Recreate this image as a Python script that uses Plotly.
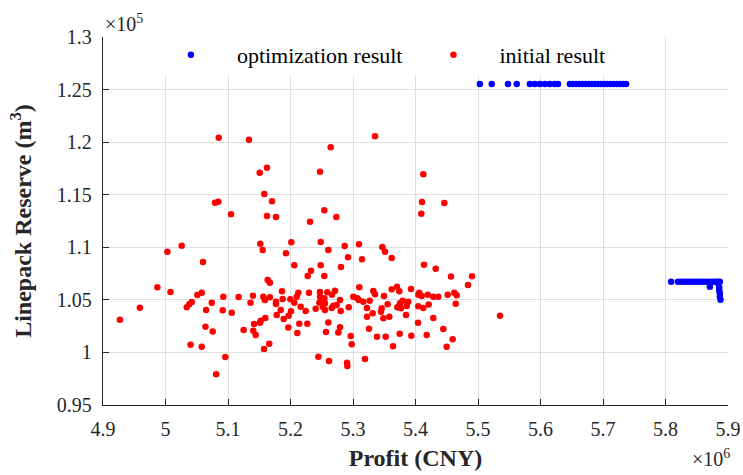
import plotly.graph_objects as go

# Optimization result (profit in 1e6 CNY, reserve in 1e5 m^3)
opt_profit = [5.503, 5.522, 5.548, 5.562, 5.583, 5.591, 5.599, 5.607, 5.615, 5.623, 5.628,
              5.647, 5.652, 5.657, 5.662, 5.667, 5.672, 5.677, 5.682, 5.687, 5.692, 5.697,
              5.702, 5.707, 5.712, 5.717, 5.722, 5.727, 5.732, 5.737,
              5.809, 5.820, 5.825, 5.830, 5.835, 5.840, 5.845, 5.850, 5.855, 5.860, 5.865,
              5.870, 5.875, 5.880, 5.884, 5.887,
              5.871, 5.883, 5.886, 5.886, 5.887, 5.887, 5.888]
opt_reserve = [1.2553] * 30 + [1.0673] * 16 + [1.0625, 1.0663, 1.062, 1.059, 1.056, 1.053, 1.050]

# Initial result
init_profit = [4.927, 4.959, 4.987, 5.003, 5.008, 5.060, 5.034, 5.038, 5.042, 5.051, 5.058, 5.065,
               5.074, 5.064, 5.0755, 5.040, 5.058, 5.0925, 5.0915, 5.106, 5.0957, 5.081, 5.117,
               5.136, 5.140, 5.125, 5.1416, 5.1443, 5.1512, 5.1523, 5.1597, 5.1405, 5.1576, 5.166,
               5.1565, 5.159, 5.167, 5.1635, 5.167, 5.1768, 5.1768, 5.1864, 5.1875, 5.1843, 5.1891,
               5.1965, 5.1971, 5.2008, 5.1997, 5.2061, 5.2099, 5.2125, 5.2163, 5.2243, 5.2141,
               5.2109, 5.2269, 5.2296, 5.2275, 5.2061, 5.1928, 5.1555,
               5.0851, 5.1336, 5.1624, 5.1507, 5.1581, 5.1704, 5.0792, 5.0845, 5.1048, 5.1624,
               5.1768, 5.0259, 5.1517, 5.2013, 5.2312,
               5.3352, 5.2643, 5.2472, 5.4125, 5.4104, 5.4461, 5.4093, 5.2541, 5.2733, 5.2483,
               5.2605, 5.2867, 5.3096, 5.3469,
               5.292, 5.3144, 5.3512, 5.3619, 5.2483, 5.2808, 5.2328, 5.2541, 5.4136, 5.4323,
               5.4568, 5.4904, 5.484, 5.2472, 5.2589, 5.2712, 5.2664, 5.2472, 5.2499, 5.2541,
               5.2461, 5.2552, 5.2515, 5.2403, 5.2552, 5.2659, 5.2739, 5.2792, 5.2685, 5.2803,
               5.2931, 5.3005, 5.3069, 5.3101, 5.3165, 5.3091, 5.3267, 5.3325, 5.3352, 5.3496,
               5.3619, 5.3704, 5.3741, 5.3928, 5.3224, 5.3315, 5.3459, 5.3448, 5.3485, 5.3224,
               5.3256, 5.3555, 5.3581, 5.3752, 5.3795, 5.3885, 5.3859, 5.3709, 5.3768, 5.3848,
               5.3384, 5.3523, 5.3747, 5.3933, 5.3640,
               5.4045, 5.4061, 5.4099, 5.4195, 5.4285, 5.4365, 5.4515, 5.462, 5.4659, 5.4643,
               5.4045, 5.4125, 5.4211, 5.404, 5.4285, 5.4179, 5.4445, 5.4595, 5.4499,
               5.2445, 5.2616, 5.2904, 5.2909, 5.3192, 5.2963, 5.2979, 5.2765, 5.2792, 5.2568,
               5.2605, 5.1779, 5.5352]
init_reserve = [1.031, 1.0426, 1.062, 1.0958, 1.0575, 1.086, 1.043, 1.0458, 1.048, 1.0546, 1.0568, 1.0404,
                1.0473, 1.0245, 1.020, 1.0074, 1.0055, 1.053, 1.040, 1.0378, 0.9957, 0.9792, 1.0527,
                1.0473, 1.054, 1.0214, 1.0271, 1.0166, 1.0283, 1.0302, 1.0328, 1.0207, 1.0033, 1.0083,
                1.053, 1.0499, 1.0525, 1.0689, 1.0663, 1.0483, 1.0461, 1.0582, 1.0508, 1.0404, 1.0318,
                1.0236, 1.035, 1.0391, 1.0506, 1.0473, 1.053, 1.0568, 1.0435, 1.0394, 1.0273,
                1.0185, 1.0273, 1.0568, 1.0727, 1.0829, 1.0943, 1.0974,
                1.2042, 1.2023, 1.1757, 1.171, 1.1507, 1.1437, 1.1424, 1.1434, 1.1314, 1.1298,
                1.1288, 1.1015, 1.1034, 1.1047, 1.1243,
                1.2056, 1.1951, 1.1719, 1.1694, 1.1431, 1.1421, 1.132, 1.1352, 1.1288, 1.105,
                1.0974, 1.1012, 1.1028, 1.1003,
                1.0905, 1.0886, 1.0958, 1.0898, 1.0829, 1.0813, 1.0778, 1.0727, 1.0835, 1.0797,
                1.0721, 1.0724, 1.0641, 1.0575, 1.0572, 1.0587, 1.0549, 1.053, 1.0492, 1.0515,
                1.0473, 1.0468, 1.0435, 1.0416, 1.0404, 1.0423, 1.0451, 1.0499, 1.0445, 1.0394,
                1.0429, 1.053, 1.0515, 1.062, 1.0483, 1.0499, 1.0492, 1.0584, 1.0553, 1.0537,
                1.06, 1.0625, 1.0582, 1.0603, 1.0423, 1.0372, 1.0420, 1.0388, 1.0325, 1.034,
                1.0226, 1.0458, 1.034, 1.0467, 1.0492, 1.0483, 1.0442, 1.0429, 1.042, 1.0356,
                1.015, 1.015, 1.0178, 1.0159, 1.0059,
                1.0549, 1.0568, 1.0536, 1.0549, 1.053, 1.053, 1.0549, 1.0568, 1.0543, 1.0464,
                1.0439, 1.0423, 1.0455, 1.0283, 1.0328, 1.0166, 1.0223, 1.0125, 1.0055,
                0.996, 0.9919, 0.9903, 0.9872, 0.9938, 1.0157, 1.0078, 1.0189, 1.024, 1.0195,
                1.0284, 1.0356, 1.035]

x_ticks = [4.9, 5.0, 5.1, 5.2, 5.3, 5.4, 5.5, 5.6, 5.7, 5.8, 5.9]
x_tick_text = ["4.9", "5", "5.1", "5.2", "5.3", "5.4", "5.5", "5.6", "5.7", "5.8", "5.9"]
y_ticks = [0.95, 1.0, 1.05, 1.1, 1.15, 1.2, 1.25, 1.3]
y_tick_text = ["0.95", "1", "1.05", "1.1", "1.15", "1.2", "1.25", "1.3"]

FONT = "Liberation Serif"
AX = "#262626"

fig = go.Figure()
fig.add_trace(go.Scatter(x=opt_profit, y=opt_reserve, mode="markers", name="optimization result",
                         marker=dict(color="#0000FF", size=6.5, line=dict(width=0))))
fig.add_trace(go.Scatter(x=init_profit, y=init_reserve, mode="markers", name="initial result",
                         marker=dict(color="#FF0000", size=6.5, line=dict(width=0))))

fig.update_layout(
    width=743, height=475,
    margin=dict(l=103, r=15, t=37, b=70),
    paper_bgcolor="white", plot_bgcolor="white",
    font=dict(family=FONT, size=20, color=AX),
    showlegend=True,
    legend=dict(orientation="h", x=0.067, xanchor="left", y=0.951, yanchor="middle",
                bgcolor="white", borderwidth=0,
                font=dict(family=FONT, size=22, color="black"),
                itemwidth=82, tracegroupgap=0),
    xaxis=dict(range=[4.9, 5.9], tickvals=x_ticks, ticktext=x_tick_text, automargin=False,
               showgrid=True, gridcolor="#DFDFDF", gridwidth=1,
               showline=True, linecolor=AX, linewidth=1.3, mirror=False,
               ticks="inside", ticklen=6, tickcolor=AX, tickwidth=1.3,
               ticklabelstandoff=6,
               tickfont=dict(family=FONT, size=20, color=AX), zeroline=False,
               title=dict(text="<b>Profit (CNY)</b>", font=dict(family=FONT, size=24, color=AX),
                          standoff=10)),
    yaxis=dict(range=[0.95, 1.3], tickvals=y_ticks, ticktext=y_tick_text, automargin=False,
               showgrid=True, gridcolor="#DFDFDF", gridwidth=1,
               showline=True, linecolor=AX, linewidth=1.3, mirror=False,
               ticks="inside", ticklen=6, tickcolor=AX, tickwidth=1.3,
               ticklabelstandoff=6,
               tickfont=dict(family=FONT, size=20, color=AX), zeroline=False,
               title=dict(text="<b>Linepack Reserve (m<sup>3</sup>)</b>",
                          font=dict(family=FONT, size=24, color=AX), standoff=18)),
    annotations=[
        dict(text="×10<sup>5</sup>", xref="paper", yref="paper", x=0.0, y=1.0,
             xanchor="left", yanchor="bottom", showarrow=False,
             font=dict(family=FONT, size=20, color=AX)),
        dict(text="×10<sup>6</sup>", xref="paper", yref="paper", x=1.0, y=-0.183,
             xanchor="right", yanchor="bottom", showarrow=False, xshift=4,
             font=dict(family=FONT, size=20, color=AX)),
    ],
)

fig.write_html("out.html")
